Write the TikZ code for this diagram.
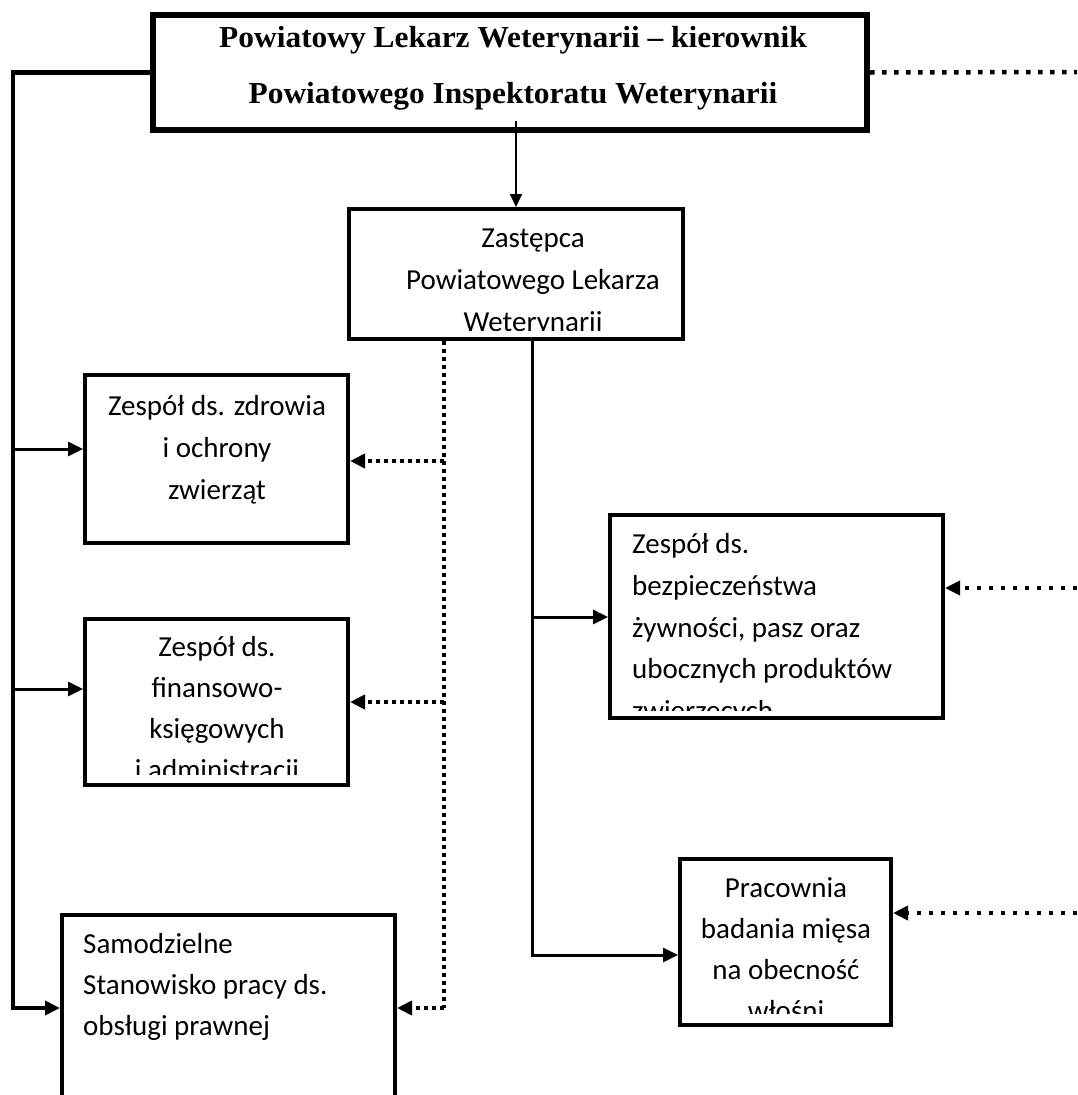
\documentclass[tikz,border=0pt]{standalone}
\usepackage{fontspec}
\newfontfamily\boxfont{Carlito}
\newfontfamily\headfont[FakeStretch=1.03]{Liberation Serif}
\usetikzlibrary{arrows.meta}
\tikzset{
  frame/.style={draw, line width=4pt, inner sep=0pt, rectangle},
  headframe/.style={draw, line width=6pt, inner sep=0pt, rectangle},
  txt/.style={font=\boxfont\fontsize{29}{42}\selectfont, inner sep=0pt, anchor=base},
  txtl/.style={txt, anchor=base west},
  headtxt/.style={font=\headfont\bfseries\fontsize{30.5}{56}\selectfont, inner sep=0pt, anchor=base},
  tip/.style={-{Triangle[length=15pt,width=14pt]}},
  smalltip/.style={-{Triangle[length=13pt,width=12pt]}},
  solidarrow/.style={line width=3pt, tip},
  busline/.style={line width=4.5pt},
  dotline/.style={line width=4pt, dash pattern=on 4pt off 4pt},
  dotarrow/.style={dotline, tip},
  dotfar/.style={line width=4.5pt, dash pattern=on 4.5pt off 7.5pt},
  dotfararrow/.style={dotfar, tip},
}
\begin{document}
\begin{tikzpicture}[x=1pt,y=-1pt]
\useasboundingbox (0,0) rectangle (1077,1095);
\clip (0,0) rectangle (1077,1095);

% boxes
\node[headframe, minimum width=714pt, minimum height=115pt] (top) at (510,72.5) {};
\node[frame, minimum width=334pt, minimum height=130pt] (zast) at (516,274) {};
\node[frame, minimum width=263pt, minimum height=168pt] (zdr) at (216.5,459) {};
\node[frame, minimum width=263pt, minimum height=166pt] (fin) at (216.5,702) {};
\node[frame, minimum width=333pt, minimum height=203pt] (bezp) at (776.5,616.5) {};
\node[frame, minimum width=211pt, minimum height=166pt] (prac) at (785.5,942) {};
\node[frame, minimum width=333pt, minimum height=200pt] (samo) at (228.5,1015) {};

% texts
\node[headtxt] (h1) at (513,47) {Powiatowy Lekarz Weterynarii – kierownik};
\node[headtxt] (h2) at (513,103) {Powiatowego Inspektoratu Weterynarii};

\begin{scope}
\clip (351,211) rectangle (681,330);
\node[txt] (z1) at (533,247) {Zastępca};
\node[txt] (z2) at (533,289) {Powiatowego Lekarza};
\node[txt] (z3) at (533,331) {Weterynarii};
\end{scope}

\node[txt] (d1) at (217,415) {Zespół ds. zdrowia};
\node[txt] (d2) at (217,457) {i ochrony};
\node[txt] (d3) at (217,499) {zwierząt};

\begin{scope}
\clip (87,621) rectangle (346,774);
\node[txt] (f1) at (217,656) {Zespół ds.};
\node[txt] (f2) at (217,697) {finansowo-};
\node[txt] (f3) at (217,738) {księgowych};
\node[txt] (f4) at (217,779) {i administracji};
\end{scope}

\begin{scope}
\clip (612,517) rectangle (943,710);
\node[txtl] (b1) at (632,553) {Zespół ds.};
\node[txtl] (b2) at (632,595) {bezpieczeństwa};
\node[txtl] (b3) at (632,637) {żywności, pasz oraz};
\node[txtl] (b4) at (632,678) {ubocznych produktów};
\node[txtl] (b5) at (632,720) {zwierzęcych};
\end{scope}

\begin{scope}
\clip (682,861) rectangle (889,1013);
\node[txt] (p1) at (786,897) {Pracownia};
\node[txt] (p2) at (786,938) {badania mięsa};
\node[txt] (p3) at (786,979) {na obecność};
\node[txt] (p4) at (786,1020) {włośni};
\end{scope}

\node[txtl] (s1) at (83,953) {Samodzielne};
\node[txtl] (s2) at (83,994) {Stanowisko pracy ds.};
\node[txtl] (s3) at (83,1035) {obsługi prawnej};

% connectors
\coordinate (busB) at (13,1008);
\coordinate (yz) at (0,449);
\coordinate (yf) at (0,689);
\draw[busline, tip] (top.west) -| (busB) -- (busB -| samo.west);
\draw[solidarrow] (busB |- yz) -- (zdr.west |- yz);
\draw[solidarrow] (busB |- yf) -- (fin.west |- yf);

\draw[line width=2pt, smalltip] ([yshift=12pt]zast.north |- top.south) -- (zast.north);

\coordinate (rt) at (1077,72);
\draw[dotfar] (top.east) -- (rt);

\coordinate (dvB) at (444,1008);
\coordinate (ydz) at (0,461);
\coordinate (ydf) at (0,702);
\draw[dotline] (dvB |- zast.south) -- (dvB);
\draw[dotarrow] (dvB |- ydz) -- (zdr.east |- ydz);
\draw[dotarrow] (dvB |- ydf) -- (fin.east |- ydf);
\draw[dotarrow] (dvB) -- (dvB -| samo.east);

\coordinate (svB) at (532,955);
\coordinate (yb) at (0,617);
\draw[solidarrow] (svB |- zast.south) -- (svB) -- (svB -| prac.west);
\draw[solidarrow] (svB |- yb) -- (bezp.west |- yb);

\coordinate (rb) at (1077,588);
\coordinate (rp) at (1077,913);
\draw[dotfararrow] (rb) -- (rb -| bezp.east);
\draw[dotfararrow] (rp) -- (rp -| prac.east);
\end{tikzpicture}
\end{document}
